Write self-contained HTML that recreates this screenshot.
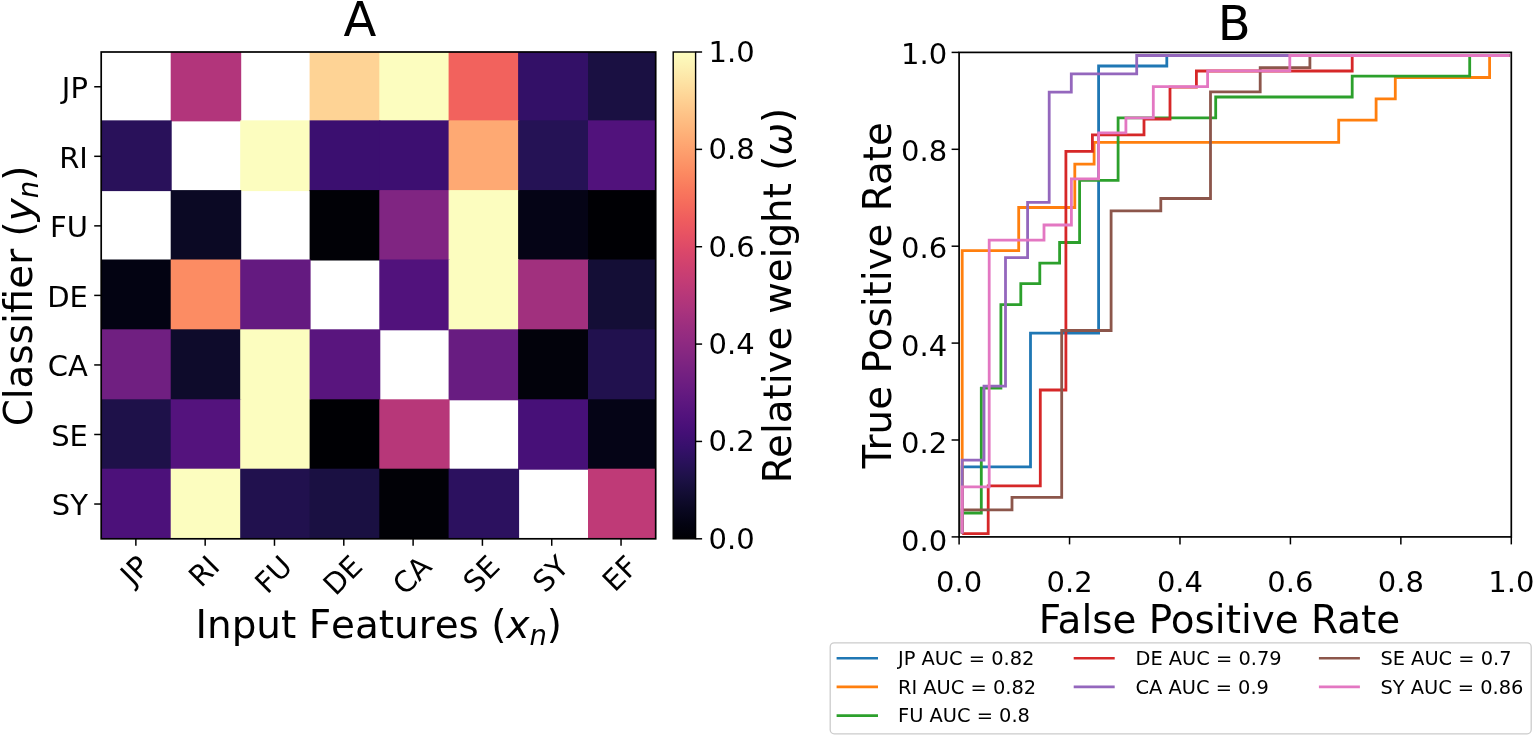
<!DOCTYPE html>
<html><head><meta charset="utf-8"><title>Figure</title>
<style>
html,body{margin:0;padding:0;background:#fff;}
body{width:1534px;height:737px;overflow:hidden;}
svg{display:block;}
text{font-family:'DejaVu Sans', 'Liberation Sans', sans-serif;fill:#000;}
.t29{font-size:29px;}
.t38{font-size:38.9px;}
.t48{font-size:48px;}
.t19{font-size:19.4px;}
.it{font-style:italic;}
.nk{font-kerning:none;}
.sub{font-size:27.5px;}
</style></head>
<body>
<svg width="1534" height="737" viewBox="0 0 1534 737">
<rect width="1534" height="737" fill="#fff"/>
<rect x="170.70" y="52.00" width="70.50" height="69.35" fill="#b2357b"/>
<rect x="309.60" y="52.00" width="70.70" height="69.35" fill="#fed395"/>
<rect x="379.30" y="52.00" width="70.30" height="69.35" fill="#fcfdbf"/>
<rect x="448.60" y="52.00" width="70.50" height="69.35" fill="#f2625d"/>
<rect x="518.10" y="52.00" width="70.90" height="69.35" fill="#331067"/>
<rect x="588.00" y="52.00" width="67.70" height="69.35" fill="#1a1042"/>
<rect x="101.20" y="120.35" width="70.50" height="70.75" fill="#29115a"/>
<rect x="240.20" y="120.35" width="70.40" height="70.75" fill="#fcfdbf"/>
<rect x="309.60" y="120.35" width="70.70" height="70.75" fill="#3b0f70"/>
<rect x="379.30" y="120.35" width="70.30" height="70.75" fill="#3d0f71"/>
<rect x="448.60" y="120.35" width="70.50" height="70.75" fill="#fea973"/>
<rect x="518.10" y="120.35" width="70.90" height="70.75" fill="#251255"/>
<rect x="588.00" y="120.35" width="67.70" height="70.75" fill="#51127c"/>
<rect x="170.70" y="190.10" width="70.50" height="70.40" fill="#0b0924"/>
<rect x="309.60" y="190.10" width="70.70" height="70.40" fill="#010106"/>
<rect x="379.30" y="190.10" width="70.30" height="70.40" fill="#802582"/>
<rect x="448.60" y="190.10" width="70.50" height="70.40" fill="#fcfdbf"/>
<rect x="518.10" y="190.10" width="70.90" height="70.40" fill="#050416"/>
<rect x="588.00" y="190.10" width="67.70" height="70.40" fill="#000004"/>
<rect x="101.20" y="259.50" width="70.50" height="70.80" fill="#030312"/>
<rect x="170.70" y="259.50" width="70.50" height="70.80" fill="#fc8c63"/>
<rect x="240.20" y="259.50" width="70.40" height="70.80" fill="#641a80"/>
<rect x="379.30" y="259.50" width="70.30" height="70.80" fill="#51127c"/>
<rect x="448.60" y="259.50" width="70.50" height="70.80" fill="#fcfdbf"/>
<rect x="518.10" y="259.50" width="70.90" height="70.80" fill="#a1307e"/>
<rect x="588.00" y="259.50" width="67.70" height="70.80" fill="#140e36"/>
<rect x="101.20" y="329.30" width="70.50" height="71.00" fill="#701f81"/>
<rect x="170.70" y="329.30" width="70.50" height="71.00" fill="#0e0b2b"/>
<rect x="240.20" y="329.30" width="70.40" height="71.00" fill="#fcfdbf"/>
<rect x="309.60" y="329.30" width="70.70" height="71.00" fill="#59157e"/>
<rect x="448.60" y="329.30" width="70.50" height="71.00" fill="#681c81"/>
<rect x="518.10" y="329.30" width="70.90" height="71.00" fill="#02020b"/>
<rect x="588.00" y="329.30" width="67.70" height="71.00" fill="#21114e"/>
<rect x="101.20" y="399.30" width="70.50" height="70.40" fill="#1e1149"/>
<rect x="170.70" y="399.30" width="70.50" height="70.40" fill="#54137d"/>
<rect x="240.20" y="399.30" width="70.40" height="70.40" fill="#fcfdbf"/>
<rect x="309.60" y="399.30" width="70.70" height="70.40" fill="#000004"/>
<rect x="379.30" y="399.30" width="70.30" height="70.40" fill="#b73779"/>
<rect x="518.10" y="399.30" width="70.90" height="70.40" fill="#471078"/>
<rect x="588.00" y="399.30" width="67.70" height="70.40" fill="#050416"/>
<rect x="101.20" y="468.70" width="70.50" height="70.10" fill="#4c117a"/>
<rect x="170.70" y="468.70" width="70.50" height="70.10" fill="#fcfdbf"/>
<rect x="240.20" y="468.70" width="70.40" height="70.10" fill="#21114e"/>
<rect x="309.60" y="468.70" width="70.70" height="70.10" fill="#1a1042"/>
<rect x="379.30" y="468.70" width="70.30" height="70.10" fill="#010106"/>
<rect x="448.60" y="468.70" width="70.50" height="70.10" fill="#2c115f"/>
<rect x="588.00" y="468.70" width="67.70" height="70.10" fill="#bf3a77"/>
<rect x="101.2" y="52.0" width="554.50" height="486.80" fill="none" stroke="#000" stroke-width="1.7"/>
<line x1="94.20" y1="86.77" x2="101.2" y2="86.77" stroke="#000" stroke-width="1.5"/>
<text x="87.90" y="88.07" class="t29" text-anchor="end" dominant-baseline="central">JP</text>
<line x1="94.20" y1="156.31" x2="101.2" y2="156.31" stroke="#000" stroke-width="1.5"/>
<text x="87.90" y="157.61" class="t29" text-anchor="end" dominant-baseline="central">RI</text>
<line x1="94.20" y1="225.86" x2="101.2" y2="225.86" stroke="#000" stroke-width="1.5"/>
<text x="87.90" y="227.16" class="t29" text-anchor="end" dominant-baseline="central">FU</text>
<line x1="94.20" y1="295.40" x2="101.2" y2="295.40" stroke="#000" stroke-width="1.5"/>
<text x="87.90" y="296.70" class="t29" text-anchor="end" dominant-baseline="central">DE</text>
<line x1="94.20" y1="364.94" x2="101.2" y2="364.94" stroke="#000" stroke-width="1.5"/>
<text x="87.90" y="366.24" class="t29" text-anchor="end" dominant-baseline="central">CA</text>
<line x1="94.20" y1="434.49" x2="101.2" y2="434.49" stroke="#000" stroke-width="1.5"/>
<text x="87.90" y="435.79" class="t29" text-anchor="end" dominant-baseline="central">SE</text>
<line x1="94.20" y1="504.03" x2="101.2" y2="504.03" stroke="#000" stroke-width="1.5"/>
<text x="87.90" y="505.33" class="t29" text-anchor="end" dominant-baseline="central">SY</text>
<line x1="135.86" y1="538.8" x2="135.86" y2="545.80" stroke="#000" stroke-width="1.5"/>
<text transform="translate(134.86,570.25) rotate(-45)" class="t29" text-anchor="middle" dominant-baseline="central">JP</text>
<line x1="205.17" y1="538.8" x2="205.17" y2="545.80" stroke="#000" stroke-width="1.5"/>
<text transform="translate(204.17,571.20) rotate(-45)" class="t29" text-anchor="middle" dominant-baseline="central">RI</text>
<line x1="274.48" y1="538.8" x2="274.48" y2="545.80" stroke="#000" stroke-width="1.5"/>
<text transform="translate(273.48,574.45) rotate(-45)" class="t29" text-anchor="middle" dominant-baseline="central">FU</text>
<line x1="343.79" y1="538.8" x2="343.79" y2="545.80" stroke="#000" stroke-width="1.5"/>
<text transform="translate(342.79,575.42) rotate(-45)" class="t29" text-anchor="middle" dominant-baseline="central">DE</text>
<line x1="413.11" y1="538.8" x2="413.11" y2="545.80" stroke="#000" stroke-width="1.5"/>
<text transform="translate(412.11,575.23) rotate(-45)" class="t29" text-anchor="middle" dominant-baseline="central">CA</text>
<line x1="482.42" y1="538.8" x2="482.42" y2="545.80" stroke="#000" stroke-width="1.5"/>
<text transform="translate(481.42,574.04) rotate(-45)" class="t29" text-anchor="middle" dominant-baseline="central">SE</text>
<line x1="551.73" y1="538.8" x2="551.73" y2="545.80" stroke="#000" stroke-width="1.5"/>
<text transform="translate(550.73,573.82) rotate(-45)" class="t29" text-anchor="middle" dominant-baseline="central">SY</text>
<line x1="621.04" y1="538.8" x2="621.04" y2="545.80" stroke="#000" stroke-width="1.5"/>
<text transform="translate(620.04,573.43) rotate(-45)" class="t29" text-anchor="middle" dominant-baseline="central">EF</text>
<defs><linearGradient id="cb" x1="0" y1="0" x2="0" y2="1"><stop offset="0.0000" stop-color="#fcfdbf"/><stop offset="0.0312" stop-color="#fcf0b2"/><stop offset="0.0625" stop-color="#fde2a3"/><stop offset="0.0938" stop-color="#fed395"/><stop offset="0.1250" stop-color="#fec488"/><stop offset="0.1562" stop-color="#feb67c"/><stop offset="0.1875" stop-color="#fea772"/><stop offset="0.2188" stop-color="#fd9869"/><stop offset="0.2500" stop-color="#fc8961"/><stop offset="0.2812" stop-color="#f9795d"/><stop offset="0.3125" stop-color="#f56b5c"/><stop offset="0.3438" stop-color="#ef5d5e"/><stop offset="0.3750" stop-color="#e75263"/><stop offset="0.4062" stop-color="#dc4869"/><stop offset="0.4375" stop-color="#d0416f"/><stop offset="0.4688" stop-color="#c43c75"/><stop offset="0.5000" stop-color="#b73779"/><stop offset="0.5312" stop-color="#aa337d"/><stop offset="0.5625" stop-color="#9c2e7f"/><stop offset="0.5938" stop-color="#902a81"/><stop offset="0.6250" stop-color="#832681"/><stop offset="0.6562" stop-color="#762181"/><stop offset="0.6875" stop-color="#6a1c81"/><stop offset="0.7188" stop-color="#5d177f"/><stop offset="0.7500" stop-color="#51127c"/><stop offset="0.7812" stop-color="#440f76"/><stop offset="0.8125" stop-color="#36106b"/><stop offset="0.8438" stop-color="#29115a"/><stop offset="0.8750" stop-color="#1d1147"/><stop offset="0.9062" stop-color="#130d34"/><stop offset="0.9375" stop-color="#0a0822"/><stop offset="0.9688" stop-color="#030312"/><stop offset="1.0000" stop-color="#000004"/></linearGradient></defs>
<rect x="673.2" y="52.0" width="22.40" height="486.80" fill="url(#cb)" stroke="#000" stroke-width="1.4"/>
<line x1="695.6" y1="538.80" x2="702.10" y2="538.80" stroke="#000" stroke-width="1.5"/>
<text x="708.50" y="538.80" class="t29" dominant-baseline="central">0.0</text>
<line x1="695.6" y1="441.44" x2="702.10" y2="441.44" stroke="#000" stroke-width="1.5"/>
<text x="708.50" y="441.44" class="t29" dominant-baseline="central">0.2</text>
<line x1="695.6" y1="344.08" x2="702.10" y2="344.08" stroke="#000" stroke-width="1.5"/>
<text x="708.50" y="344.08" class="t29" dominant-baseline="central">0.4</text>
<line x1="695.6" y1="246.72" x2="702.10" y2="246.72" stroke="#000" stroke-width="1.5"/>
<text x="708.50" y="246.72" class="t29" dominant-baseline="central">0.6</text>
<line x1="695.6" y1="149.36" x2="702.10" y2="149.36" stroke="#000" stroke-width="1.5"/>
<text x="708.50" y="149.36" class="t29" dominant-baseline="central">0.8</text>
<line x1="695.6" y1="52.00" x2="702.10" y2="52.00" stroke="#000" stroke-width="1.5"/>
<text x="708.50" y="52.00" class="t29" dominant-baseline="central">1.0</text>
<text transform="translate(790.8,295.5) rotate(-90)" class="t38" text-anchor="middle">Relative weight (<tspan class="it">ω</tspan>)</text>
<text x="378.8" y="638.2" class="t38 nk" text-anchor="middle">Input Features (<tspan class="it">x</tspan><tspan class="it sub" dy="6.5">n</tspan><tspan dy="-6.5">)</tspan></text>
<text transform="translate(31.5,296) rotate(-90)" class="t38" text-anchor="middle">Classifier (<tspan class="it">y</tspan><tspan class="it sub" dy="6.5">n</tspan><tspan dy="-6.5">)</tspan></text>
<text x="360" y="36" class="t48" text-anchor="middle">A</text>
<text x="1234.3" y="40.4" class="t48" text-anchor="middle">B</text>
<line x1="959.10" y1="536.9" x2="959.10" y2="544.40" stroke="#000" stroke-width="1.5"/>
<text x="959.10" y="592.00" class="t29" text-anchor="middle">0.0</text>
<line x1="951.60" y1="536.90" x2="959.1" y2="536.90" stroke="#000" stroke-width="1.5"/>
<text x="947.10" y="540.60" class="t29" text-anchor="end" dominant-baseline="central">0.0</text>
<line x1="1069.54" y1="536.9" x2="1069.54" y2="544.40" stroke="#000" stroke-width="1.5"/>
<text x="1069.54" y="592.00" class="t29" text-anchor="middle">0.2</text>
<line x1="951.60" y1="440.00" x2="959.1" y2="440.00" stroke="#000" stroke-width="1.5"/>
<text x="947.10" y="443.20" class="t29" text-anchor="end" dominant-baseline="central">0.2</text>
<line x1="1179.98" y1="536.9" x2="1179.98" y2="544.40" stroke="#000" stroke-width="1.5"/>
<text x="1179.98" y="592.00" class="t29" text-anchor="middle">0.4</text>
<line x1="951.60" y1="343.10" x2="959.1" y2="343.10" stroke="#000" stroke-width="1.5"/>
<text x="947.10" y="345.80" class="t29" text-anchor="end" dominant-baseline="central">0.4</text>
<line x1="1290.42" y1="536.9" x2="1290.42" y2="544.40" stroke="#000" stroke-width="1.5"/>
<text x="1290.42" y="592.00" class="t29" text-anchor="middle">0.6</text>
<line x1="951.60" y1="246.20" x2="959.1" y2="246.20" stroke="#000" stroke-width="1.5"/>
<text x="947.10" y="248.40" class="t29" text-anchor="end" dominant-baseline="central">0.6</text>
<line x1="1400.86" y1="536.9" x2="1400.86" y2="544.40" stroke="#000" stroke-width="1.5"/>
<text x="1400.86" y="592.00" class="t29" text-anchor="middle">0.8</text>
<line x1="951.60" y1="149.30" x2="959.1" y2="149.30" stroke="#000" stroke-width="1.5"/>
<text x="947.10" y="151.00" class="t29" text-anchor="end" dominant-baseline="central">0.8</text>
<line x1="1511.30" y1="536.9" x2="1511.30" y2="544.40" stroke="#000" stroke-width="1.5"/>
<text x="1511.30" y="592.00" class="t29" text-anchor="middle">1.0</text>
<line x1="951.60" y1="52.40" x2="959.1" y2="52.40" stroke="#000" stroke-width="1.5"/>
<text x="947.10" y="53.60" class="t29" text-anchor="end" dominant-baseline="central">1.0</text>
<text x="1219.5" y="632.6" class="t38" text-anchor="middle">False Positive Rate</text>
<text transform="translate(890.6,295.2) rotate(-90)" class="t38" text-anchor="middle">True Positive Rate</text>
<path d="M962.2,533.6 L962.2,466.8 L1030.5,466.8 L1030.5,333.2 L1098.6,333.2 L1098.6,66.0 L1166.8,66.0 L1166.8,55.5 L1509.6,55.5" fill="none" stroke="#1f77b4" stroke-width="2.8" stroke-linejoin="miter" stroke-linecap="butt"/>
<path d="M962.2,533.6 L962.2,250.7 L1018.7,250.7 L1018.7,207.5 L1074.8,207.5 L1074.8,164.1 L1094.1,164.1 L1094.1,142.3 L1338.7,142.3 L1338.7,120.2 L1376.1,120.2 L1376.1,98.9 L1395.3,98.9 L1395.3,77.5 L1489.6,77.5 L1489.6,55.5 L1509.6,55.5" fill="none" stroke="#ff7f0e" stroke-width="2.8" stroke-linejoin="miter" stroke-linecap="butt"/>
<path d="M962.2,533.6 L962.2,513.0 L981.3,513.0 L981.3,388.1 L1000.9,388.1 L1000.9,304.7 L1020.8,304.7 L1020.8,283.7 L1039.8,283.7 L1039.8,263.2 L1059.6,263.2 L1059.6,242.5 L1079.6,242.5 L1079.6,180.4 L1118.1,180.4 L1118.1,117.9 L1215.7,117.9 L1215.7,97.0 L1352.2,97.0 L1352.2,76.2 L1469.7,76.2 L1469.7,55.5 L1509.6,55.5" fill="none" stroke="#2ca02c" stroke-width="2.8" stroke-linejoin="miter" stroke-linecap="butt"/>
<path d="M962.2,533.6 L988.2,533.6 L988.2,485.8 L1040.3,485.8 L1040.3,390.0 L1065.9,390.0 L1065.9,151.3 L1092.4,151.3 L1092.4,134.8 L1144.0,134.8 L1144.0,119.0 L1170.0,119.0 L1170.0,87.2 L1196.4,87.2 L1196.4,71.0 L1352.2,71.0 L1352.2,55.5 L1509.6,55.5" fill="none" stroke="#d62728" stroke-width="2.8" stroke-linejoin="miter" stroke-linecap="butt"/>
<path d="M962.2,533.6 L962.2,460.1 L984.0,460.1 L984.0,386.2 L1005.5,386.2 L1005.5,257.7 L1027.6,257.7 L1027.6,202.4 L1049.2,202.4 L1049.2,92.1 L1071.3,92.1 L1071.3,73.9 L1136.7,73.9 L1136.7,55.5 L1509.6,55.5" fill="none" stroke="#9467bd" stroke-width="2.8" stroke-linejoin="miter" stroke-linecap="butt"/>
<path d="M962.2,533.6 L962.2,509.8 L1012.0,509.8 L1012.0,497.4 L1061.7,497.4 L1061.7,330.5 L1111.1,330.5 L1111.1,210.9 L1160.8,210.9 L1160.8,198.5 L1210.5,198.5 L1210.5,91.8 L1260.2,91.8 L1260.2,67.7 L1309.9,67.7 L1309.9,55.5 L1509.6,55.5" fill="none" stroke="#8c564b" stroke-width="2.8" stroke-linejoin="miter" stroke-linecap="butt"/>
<path d="M962.2,533.6 L962.2,486.9 L989.2,486.9 L989.2,240.1 L1044.0,240.1 L1044.0,225.0 L1071.4,225.0 L1071.4,178.8 L1098.6,178.8 L1098.6,132.8 L1125.9,132.8 L1125.9,117.9 L1153.3,117.9 L1153.3,86.7 L1207.6,86.7 L1207.6,70.9 L1289.8,70.9 L1289.8,55.5 L1509.6,55.5" fill="none" stroke="#e377c2" stroke-width="2.8" stroke-linejoin="miter" stroke-linecap="butt"/>
<rect x="959.1" y="52.4" width="552.20" height="484.50" fill="none" stroke="#000" stroke-width="1.7"/>
<rect x="830.2" y="642.9" width="701" height="90.9" rx="4" ry="4" fill="#fff" fill-opacity="0.8" stroke="#cccccc" stroke-width="1.3"/>
<line x1="836.6" y1="658.20" x2="878.0" y2="658.20" stroke="#1f77b4" stroke-width="2.6"/>
<text x="898.0" y="665.00" class="t19">JP AUC = 0.82</text>
<line x1="836.6" y1="686.90" x2="878.0" y2="686.90" stroke="#ff7f0e" stroke-width="2.6"/>
<text x="898.0" y="693.70" class="t19">RI AUC = 0.82</text>
<line x1="836.6" y1="715.60" x2="878.0" y2="715.60" stroke="#2ca02c" stroke-width="2.6"/>
<text x="898.0" y="722.40" class="t19">FU AUC = 0.8</text>
<line x1="1073.7" y1="658.20" x2="1114.7" y2="658.20" stroke="#d62728" stroke-width="2.6"/>
<text x="1135.5" y="665.00" class="t19">DE AUC = 0.79</text>
<line x1="1073.7" y1="686.90" x2="1114.7" y2="686.90" stroke="#9467bd" stroke-width="2.6"/>
<text x="1135.5" y="693.70" class="t19">CA AUC = 0.9</text>
<line x1="1318.9" y1="658.20" x2="1359.9" y2="658.20" stroke="#8c564b" stroke-width="2.6"/>
<text x="1380.4" y="665.00" class="t19">SE AUC = 0.7</text>
<line x1="1318.9" y1="686.90" x2="1359.9" y2="686.90" stroke="#e377c2" stroke-width="2.6"/>
<text x="1380.4" y="693.70" class="t19">SY AUC = 0.86</text>
</svg>
</body></html>
